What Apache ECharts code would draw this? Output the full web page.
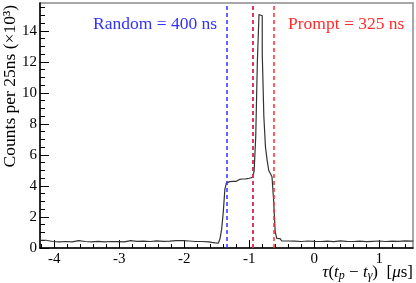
<!DOCTYPE html>
<html>
<head>
<meta charset="utf-8">
<script src="https://cdn.jsdelivr.net/npm/echarts@6/dist/echarts.min.js"></script>
<style>html,body{margin:0;padding:0;background:#fff}#c{width:416px;height:283px}</style>
</head>
<body>
<div id="c"></div>
<script>
// Bin left edges (µs) and counts (×10^3)
var binEdges = [
  -4.225,-4.125,-4.025,-3.925,-3.825,-3.725,-3.625,-3.525,-3.425,-3.325,
  -3.225,-3.125,-3.025,-2.925,-2.825,-2.725,-2.625,-2.525,-2.425,-2.325,
  -2.225,-2.125,-2.025,-1.925,-1.825,-1.725,-1.625,
  -1.575,-1.525,-1.475,-1.45,-1.425,-1.4,-1.375,
  -1.35,-1.325,-1.3,-1.275,-1.25,-1.225,-1.2,-1.175,-1.15,-1.125,-1.1,-1.075,-1.05,-1.025,-1.0,-0.975,
  -0.95,-0.925,-0.9,-0.875,-0.85,-0.825,-0.8,-0.775,-0.75,-0.725,-0.7,-0.675,-0.65,-0.625,-0.6,-0.575,-0.55,
  -0.525,
  -0.5,-0.4,-0.3,-0.2,-0.1,0.0,0.1,0.2,0.3,0.4,0.5,0.6,0.7,0.8,0.9,1.0,1.1,1.2,1.3,1.4,1.5
];
var lastEdge = 1.525;
var counts = [
  0.50,0.42,0.40,0.42,0.40,0.47,0.42,0.40,0.43,0.40,
  0.42,0.41,0.40,0.48,0.43,0.44,0.42,0.46,0.43,0.44,
  0.48,0.47,0.45,0.42,0.42,0.40,0.36,
  0.33,0.32,0.40,0.60,1.20,2.30,3.80,
  4.20,4.28,4.25,4.30,4.33,4.30,4.38,4.42,4.38,4.45,4.50,4.46,4.52,4.50,4.55,4.55,
  4.65,4.95,7.20,12.05,15.06,14.98,12.58,8.46,6.50,5.67,5.00,4.80,4.60,3.10,1.00,0.62,0.60,
  0.50,
  0.45,0.44,0.42,0.45,0.43,0.42,0.44,0.41,0.46,0.43,0.42,0.44,0.41,0.43,0.45,0.42,0.44,0.43,0.46,0.44,0.45
];
var randomLines = [-1.35, -0.955];
var promptLines = [-0.94, -0.625];
var xMajorTicks = [-4,-3,-2,-1,0,1];
var xMinorTicks = [-4.2,-4,-3.8,-3.6,-3.4,-3.2,-3,-2.8,-2.6,-2.4,-2.2,-2,-1.8,-1.6,-1.4,-1.2,-1,-0.8,-0.6,-0.4,-0.2,0,0.2,0.4,0.6,0.8,1,1.2,1.4];
var yMajorTicks = [0,2,4,6,8,10,12,14];
var yMinorTicks = [0,0.5,1,1.5,2,2.5,3,3.5,4,4.5,5,5.5,6,6.5,7,7.5,8,8.5,9,9.5,10,10.5,11,11.5,12,12.5,13,13.5,14,14.5,15,15.5];

var BLUE = '#3232ff', RED = '#ff2c2c';
var FONT = '"Liberation Serif", "DejaVu Serif", serif';

var data = binEdges.map(function(e,i){ return [e, counts[i]]; });
data.push([lastEdge, counts[counts.length-1]]);

var markData = [];
randomLines.forEach(function(v){ markData.push({xAxis:v, lineStyle:{color:BLUE}}); });
promptLines.forEach(function(v){ markData.push({xAxis:v, lineStyle:{color:RED}}); });

var chart = echarts.init(document.getElementById('c'), null, {renderer:'canvas'});
var xMin = -4.22, xMax = 1.52, yMin = 0, yMax = 15.8;
chart.setOption({
  animation:false,
  backgroundColor:'#fff',
  grid:{left:40, right:3, top:3, bottom:35, show:true, borderColor:'#8a8a8a', borderWidth:1.5, backgroundColor:'transparent'},
  xAxis:[{
    type:'value', min:xMin, max:xMax, position:'bottom',
    axisLine:{show:true, onZero:false, lineStyle:{color:'#000', width:1.5}},
    axisTick:{show:true, inside:true, length:8, customValues:xMajorTicks, lineStyle:{color:'#000', width:1}},
    axisLabel:{show:true, customValues:xMajorTicks, margin:4, color:'#000', fontFamily:FONT, fontSize:15,
      formatter:function(v){ return String(v).replace('\u2212','-'); }},
    splitLine:{show:false}
  },{
    type:'value', min:xMin, max:xMax, position:'bottom',
    axisLine:{show:false, onZero:false},
    axisTick:{show:true, inside:true, length:4, customValues:xMinorTicks, lineStyle:{color:'#000', width:1}},
    axisLabel:{show:false}, splitLine:{show:false}
  }],
  yAxis:[{
    type:'value', min:yMin, max:yMax, position:'left',
    axisLine:{show:true, onZero:false, lineStyle:{color:'#000', width:1.5}},
    axisTick:{show:true, inside:true, length:9, customValues:yMajorTicks, lineStyle:{color:'#000', width:1}},
    axisLabel:{show:true, customValues:yMajorTicks, margin:3, color:'#000', fontFamily:FONT, fontSize:15},
    splitLine:{show:false}
  },{
    type:'value', min:yMin, max:yMax, position:'left',
    axisLine:{show:false, onZero:false},
    axisTick:{show:true, inside:true, length:5, customValues:yMinorTicks, lineStyle:{color:'#000', width:1}},
    axisLabel:{show:false}, splitLine:{show:false}
  }],
  series:[{
    type:'line', step:'end', data:data, xAxisIndex:0, yAxisIndex:0,
    symbol:'none', lineStyle:{color:'#333', width:1.2},
    markLine:{silent:true, symbol:'none', label:{show:false},
      lineStyle:{type:[4,3], width:1.5},
      data:markData}
  }],
  graphic:[
    {type:'text', left:93, top:15, style:{text:'Random = 400 ns', fill:BLUE, font:'17.5px ' + FONT}},
    {type:'text', left:288, top:15, style:{text:'Prompt = 325 ns', fill:RED, font:'17.5px ' + FONT}},
    {type:'text', x:10, y:5, rotation:Math.PI/2,
      style:{text:'Counts per 25ns (\u00d710\u00b3)', fill:'#000', font:'17.5px ' + FONT, align:'right', verticalAlign:'middle'}},
    {type:'text', right:3, top:264,
      style:{text:'{i|\u03c4}{n|(}{i|t}{s|p}{n| \u2212 }{i|t}{s|\u03b3}{n|)  [}{i|\u03bc}{n|s]}', fill:'#000',
        rich:{
          i:{fontFamily:FONT, fontSize:17, fontStyle:'italic', fill:'#000'},
          n:{fontFamily:FONT, fontSize:17, fill:'#000'},
          s:{fontFamily:FONT, fontSize:12, fontStyle:'italic', fill:'#000', verticalAlign:'bottom', padding:[7,0,0,0]}
        }}}
  ]
});
</script>
</body>
</html>
